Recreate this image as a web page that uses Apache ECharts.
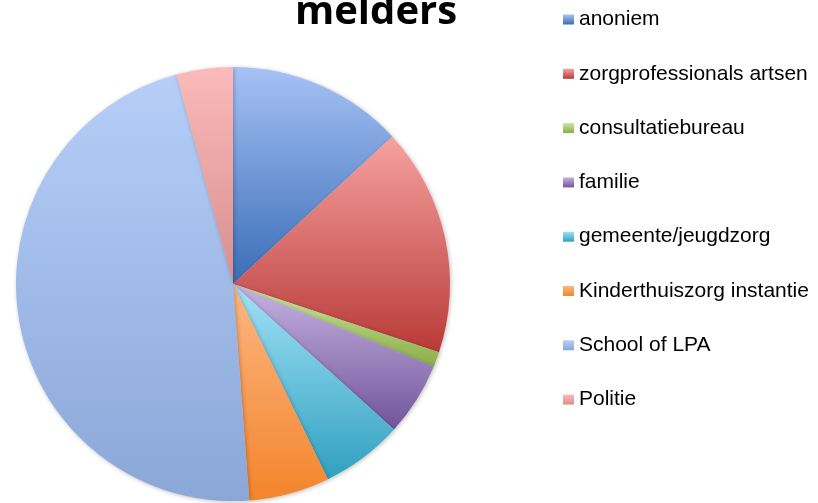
<!DOCTYPE html>
<html>
<head>
<meta charset="utf-8">
<script src="https://cdn.jsdelivr.net/npm/echarts@6/dist/echarts.min.js"></script>
<style>html,body{margin:0;padding:0;background:#fff}#c{width:818px;height:503px}</style>
</head>
<body>
<div id="c"></div>
<script>
const categories = ["anoniem", "zorgprofessionals artsen", "consultatiebureau", "familie", "gemeente/jeugdzorg", "Kinderthuiszorg instantie", "School of LPA", "Politie"];
const values = [13.1, 17.0, 1.1, 5.5, 6.1, 6.0, 47.0, 4.2];
const topColors = ["#a6c2f6", "#f6a2a0", "#cbe69e", "#c6b3e2", "#a2e2f7", "#fdb683", "#b6cef8", "#fcbaba"];
const bottomColors = ["#3a6db6", "#b83a37", "#8bae48", "#71549b", "#31a0c0", "#f3852c", "#8aa7d8", "#d78e8e"];
const titleText = "melders";

const chart = echarts.init(document.getElementById('c'), null, {renderer: 'canvas'});
const grad = i => new echarts.graphic.LinearGradient(0, 0, 0, 1, [
  {offset: 0, color: topColors[i]},
  {offset: 1, color: bottomColors[i]}
]);
const data = categories.map((name, i) => ({
  name: name,
  value: values[i],
  itemStyle: {color: grad(i)}
}));
chart.setOption({
  animation: false,
  title: {
    text: titleText,
    left: 371,
    textAlign: 'center',
    top: -12,
    textStyle: {fontFamily: 'Open Sans', fontWeight: 'bold', fontSize: 40, color: '#000'}
  },
  legend: {
    orient: 'vertical',
    left: 563,
    top: 9,
    padding: 0,
    itemWidth: 11,
    itemHeight: 10,
    itemGap: 33.3,
    icon: 'rect',
    textStyle: {fontFamily: 'Liberation Sans', fontSize: 21, color: '#000', padding: [0, 0, 0, 0]},
    data: categories.map((n, i) => ({name: n, itemStyle: {color: grad(i)}}))
  },
  series: [{
    type: 'pie',
    center: [233, 284],
    radius: 217,
    startAngle: 90,
    clockwise: true,
    label: {show: false},
    labelLine: {show: false},
    emphasis: {disabled: true},
    itemStyle: {shadowBlur: 4, shadowColor: 'rgba(0,0,0,0.25)', shadowOffsetX: 1, shadowOffsetY: 1},
    data: data
  }]
});
</script>
</body>
</html>
